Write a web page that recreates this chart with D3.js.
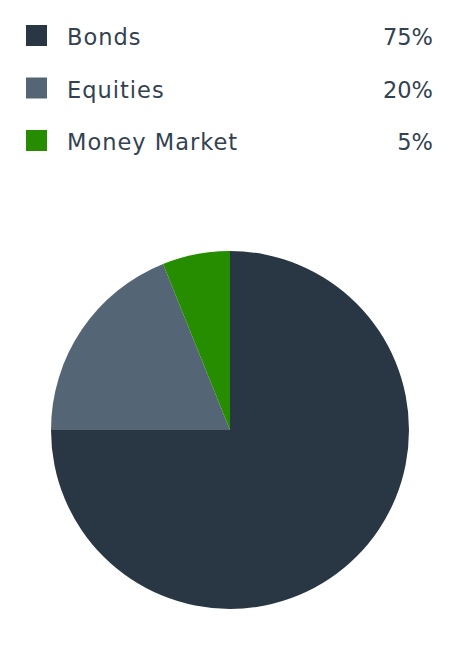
<!DOCTYPE html>
<html><head><meta charset="utf-8">
<script src="https://cdn.jsdelivr.net/npm/d3@7"></script>
<style>
html,body{margin:0;padding:0;background:#fff;}
svg{display:block;}
</style></head>
<body>
<svg id="chart" width="460" height="660"></svg>
<script>
const categories = ["Bonds", "Equities", "Money Market"];
const values = [75, 18.9, 6.1];
// percentages as printed in the legend
const pctLabels = ["75%", "20%", "5%"];
const colors = ["#293745", "#546675", "#268c00"];

const svg = d3.select("#chart");

// legend
const legendY = d3.scalePoint().domain(categories).range([45, 150]);
const lg = svg.append("g");
categories.forEach((c, i) => {
  const y = legendY(c);
  lg.append("rect").attr("x", 26).attr("y", y - 20).attr("width", 21).attr("height", 21).attr("fill", colors[i]);
  lg.append("text").attr("x", 67).attr("y", y)
    .attr("font-family", "'DejaVu Sans', sans-serif").attr("font-size", 22.5)
    .attr("letter-spacing", "1px").attr("fill", "#334251").text(c);
  lg.append("text").attr("x", 433).attr("y", y).attr("text-anchor", "end")
    .attr("font-family", "'DejaVu Sans', sans-serif").attr("font-size", 22.5)
    .attr("fill", "#334251").text(pctLabels[i]);
});

// pie
const cx = 230, cy = 430, r = 179;
const pie = d3.pie().sort(null).value(d => d.v);
const arc = d3.arc().innerRadius(0).outerRadius(r);
const data = categories.map((c, i) => ({c, v: values[i], col: colors[i]}));
svg.append("g").attr("transform", `translate(${cx},${cy})`)
  .selectAll("path").data(pie(data)).join("path")
  .attr("d", arc).attr("fill", d => d.data.col);
</script>
</body></html>
